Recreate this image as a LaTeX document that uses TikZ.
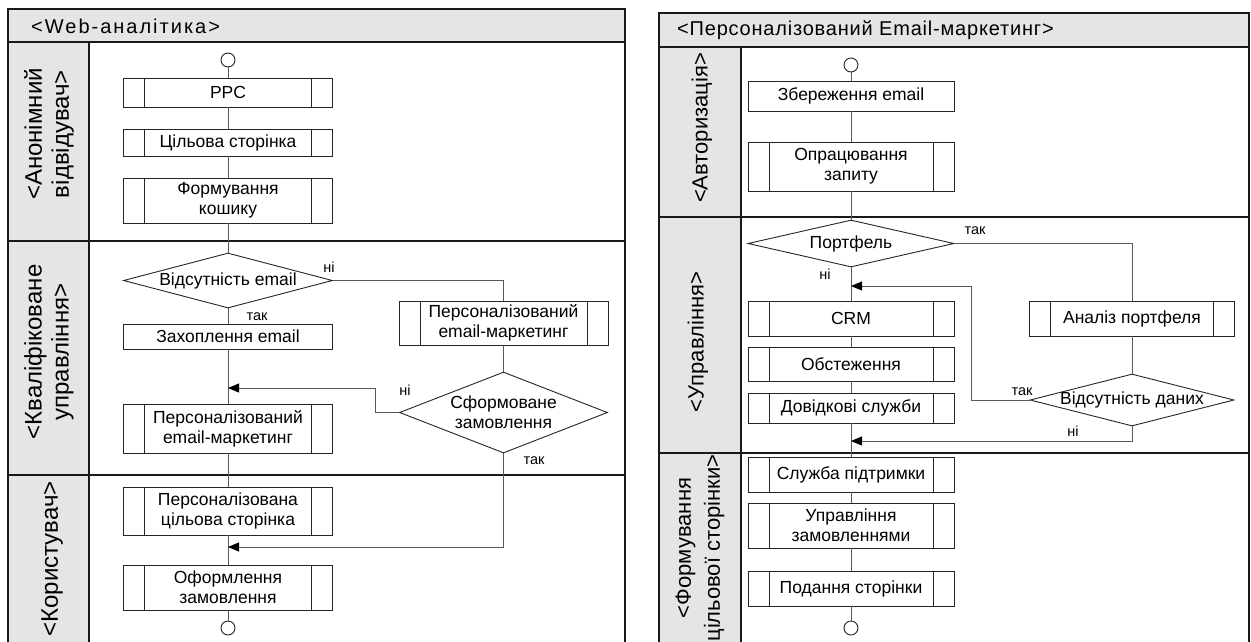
\documentclass[tikz,border=0pt]{standalone}
\usepackage{fontspec}
\setmainfont{Liberation Sans}
\usetikzlibrary{shapes.geometric,arrows.meta}
\tikzset{
  pool/.style={draw=black!90,line width=1.4pt},
  lanefill/.style={fill=black!10},
  flow/.style={draw=black!65,line width=0.9pt},
  arr/.style={-{Triangle[length=11pt,width=9pt,color=black]}},
  boxbase/.style={draw=black!85,fill=white,line width=0.9pt,inner sep=0pt,align=center,font=\fontsize{17.5}{20}\selectfont},
  simple/.style={boxbase},
  subproc/.style={boxbase,path picture={
    \draw[black!85,line width=0.8pt] ([xshift=21pt]path picture bounding box.north west) -- ([xshift=21pt]path picture bounding box.south west)
      ([xshift=-21pt]path picture bounding box.north east) -- ([xshift=-21pt]path picture bounding box.south east);}},
  decision/.style={diamond,draw=black!85,fill=white,line width=0.9pt,inner sep=0pt},
  dtext/.style={font=\fontsize{17.5}{20}\selectfont,align=center,inner sep=0pt},
  lbl/.style={font=\fontsize{14.5}{16}\selectfont,inner sep=0pt},
  lanetxt/.style={rotate=90,align=center,font=\fontsize{24}{27}\selectfont,inner sep=0pt},
  lanetxtr/.style={lanetxt,font=\fontsize{22}{29}\selectfont},
  endpt/.style={circle,draw=black!85,fill=white,line width=0.9pt,minimum size=14pt,inner sep=0pt},
  pooltxt/.style={anchor=west,inner sep=0pt}
}
\begin{document}
\begin{tikzpicture}[x=1pt,y=-1pt]
\useasboundingbox (0,0) rectangle (1251,641);
\fill[lanefill] (8,9) rectangle (625,42);
\fill[lanefill] (8,42) rectangle (89,645);
\draw[pool] (8,645) -- (8,9) -- (625,9) -- (625,645);
\draw[pool] (8,42) -- (625,42) (89,42) -- (89,645) (8,241) -- (625,241) (8,475) -- (625,475);
\node[pooltxt,font=\fontsize{20}{24}\selectfont\addfontfeatures{LetterSpace=10}] (t1) at (31,26) {<Web-аналітика>};
\node[lanetxt] (l11) at (49,134) {<Анонімний\\відвідувач>};
\node[lanetxt] (l12) at (49,352) {<Кваліфіковане\\управління>};
\node[lanetxt] (l13) at (52,559) {<Користувач>};

\fill[lanefill] (659,13) rectangle (1249,47);
\fill[lanefill] (659,47) rectangle (741,645);
\draw[pool] (659,645) -- (659,13) -- (1249,13) -- (1249,645);
\draw[pool] (659,47) -- (1249,47) (741,47) -- (741,645) (659,217) -- (1249,217) (659,453) -- (1249,453);
\node[pooltxt,font=\fontsize{20}{24}\selectfont\addfontfeatures{LetterSpace=4}] (t2) at (677,30) {<Персоналізований Email-маркетинг>};
\node[lanetxtr] (l21) at (702,128) {<Авторизація>};
\node[lanetxtr] (l22) at (698,342) {<Управління>};
\node[lanetxtr] (l23) at (700,548) {<Формування\\цільової сторінки>};

\node[endpt] (st1) at (228,60) {};
\node[subproc,minimum width=209pt,minimum height=29pt] (ppc) at (228,92.5) {PPC};
\node[subproc,minimum width=209pt,minimum height=27pt] (cs) at (228,142.5) {Цільова сторінка};
\node[subproc,minimum width=209pt,minimum height=45pt] (fk) at (228,200.5) {Формування\\кошику};
\node[decision,minimum width=209pt,minimum height=55pt,label={[dtext]center:Відсутність email}] (ve) at (228,280.5) {};
\node[simple,minimum width=209pt,minimum height=25pt] (ze) at (228,336.5) {Захоплення email};
\node[subproc,minimum width=209pt,minimum height=44pt] (pem) at (503.5,323) {Персоналізований\\email-маркетинг};
\node[decision,minimum width=208pt,minimum height=81pt,label={[dtext]center:Сформоване\\замовлення}] (sz) at (503.5,412.5) {};
\node[subproc,minimum width=209pt,minimum height=49pt] (pel) at (228,428.5) {Персоналізований\\email-маркетинг};
\node[subproc,minimum width=209pt,minimum height=48pt] (pcs) at (228,511) {Персоналізована\\цільова сторінка};
\node[subproc,minimum width=209pt,minimum height=45pt] (oz) at (228,587.5) {Оформлення\\замовлення};
\node[endpt] (en1) at (228,628) {};
\coordinate (jn1) at (228,388);
\coordinate (jn2) at (228,547);

\draw[flow] (st1) -- (ppc) -- (cs) -- (fk) -- (ve) -- (ze) -- (pel) -- (pcs) -- (oz) -- (en1);
\draw[flow] (ve.east) -| (pem.north);
\draw[flow] (pem) -- (sz);
\draw[flow,arr] (sz.west) -- ++(-24,0) |- (jn1);
\draw[flow,arr] (sz.south) |- (jn2);
\node[lbl] (n1) at (329,267) {ні};
\node[lbl] (n2) at (257,317) {так};
\node[lbl] (n3) at (405,390) {ні};
\node[lbl] (n4) at (534,461) {так};

\node[endpt] (st2) at (851,65) {};
\node[simple,minimum width=206pt,minimum height=30pt] (zb) at (851,96) {Збереження email};
\node[subproc,minimum width=206pt,minimum height=49pt] (oq) at (851,166.5) {Опрацювання\\запиту};
\node[decision,minimum width=206pt,minimum height=47pt,label={[dtext]center:Портфель}] (pf) at (851,243.5) {};
\node[subproc,minimum width=206pt,minimum height=35pt] (crm) at (851,318.5) {CRM};
\node[subproc,minimum width=206pt,minimum height=34pt] (ob) at (851,364) {Обстеження};
\node[subproc,minimum width=206pt,minimum height=30pt] (ds) at (851,408) {Довідкові служби};
\node[subproc,minimum width=205pt,minimum height=35pt] (ap) at (1132,318.5) {Аналіз портфеля};
\node[decision,minimum width=204pt,minimum height=52pt,label={[dtext]center:Відсутність даних}] (vd) at (1132,400) {};
\node[subproc,minimum width=206pt,minimum height=35pt] (sp) at (851,474.5) {Служба підтримки};
\node[subproc,minimum width=206pt,minimum height=45pt] (uz) at (851,525.5) {Управління\\замовленнями};
\node[subproc,minimum width=206pt,minimum height=35pt] (ps) at (851,588.5) {Подання сторінки};
\node[endpt] (en2) at (851,628) {};
\coordinate (jn3) at (851,286);
\coordinate (jn4) at (851,441);

\draw[flow] (st2) -- (zb) -- (oq) -- (pf) -- (crm) -- (ob) -- (ds) -- (sp) -- (uz) -- (ps) -- (en2);
\draw[flow] (pf.east) -| (ap.north);
\draw[flow] (ap) -- (vd);
\draw[flow,arr] (vd.west) -- ++(-58,0) |- (jn3);
\draw[flow,arr] (vd.south) |- (jn4);
\node[lbl] (n5) at (975,231) {так};
\node[lbl] (n6) at (825,274) {ні};
\node[lbl] (n7) at (1022,392) {так};
\node[lbl] (n8) at (1073,431) {ні};
\end{tikzpicture}
\end{document}
